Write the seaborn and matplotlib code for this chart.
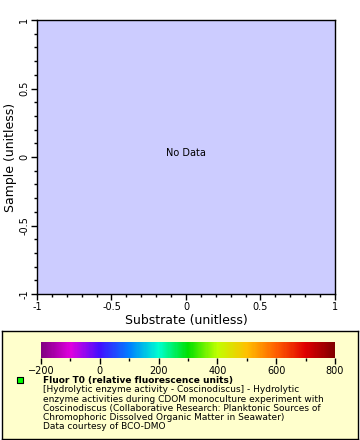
import numpy as np
import pandas as pd
import matplotlib
matplotlib.use("Agg")
import matplotlib.pyplot as plt
import seaborn as sns
from matplotlib.colors import LinearSegmentedColormap, Normalize
from matplotlib.ticker import MultipleLocator

# Dados (o gráfico original não tem pontos: "No Data")
substrate = []
sample = []
fluor_t0 = []

x_ticks = [-1, -0.5, 0, 0.5, 1]
y_ticks = [-1, -0.5, 0, 0.5, 1]
cbar_ticks = [-200, 0, 200, 400, 600, 800]

legend_title = "Fluor T0 (relative fluorescence units)"
legend_lines = [
    "[Hydrolytic enzyme activity - Coscinodiscus] - Hydrolytic",
    "enzyme activities during CDOM monoculture experiment with",
    "Coscinodiscus (Collaborative Research: Planktonic Sources of",
    "Chromophoric Dissolved Organic Matter in Seawater)",
    "Data courtesy of BCO-DMO",
]

sns.set_style("ticks", {"axes.edgecolor": "black", "xtick.color": "black",
                        "ytick.color": "black", "text.color": "black",
                        "axes.labelcolor": "black"})
plt.rcParams["font.family"] = ["DejaVu Sans"]

rainbow = LinearSegmentedColormap.from_list(
    "rainbow2",
    ["#800080", "#e000e0", "#4010ff", "#0080ff", "#00ffd0", "#00e000",
     "#c0ff00", "#ffc000", "#ff6000", "#e00000", "#800000"])
norm = Normalize(vmin=-200, vmax=800)

fig = plt.figure(figsize=(3.6, 4.4), dpi=100)
ax = fig.add_axes([37 / 360, 1 - 294 / 440, 298 / 360, 274 / 440])
ax.set_facecolor("#ccccff")

df = pd.DataFrame({"Substrate": pd.Series(substrate, dtype=float),
                   "Sample": pd.Series(sample, dtype=float),
                   "Fluor": pd.Series(fluor_t0, dtype=float)})
if len(df):
    sns.scatterplot(data=df, x="Substrate", y="Sample", hue="Fluor",
                    palette=rainbow, hue_norm=norm, ax=ax, legend=False)
else:
    ax.text(0, 0.03, "No Data", ha="center", va="center", fontsize=7)

ax.set_xlim(-1, 1)
ax.set_ylim(-1, 1)
ax.set_xticks(x_ticks)
ax.set_yticks(y_ticks)
ax.set_xticklabels([f"{t:g}" for t in x_ticks])
ax.set_yticklabels([f"{t:g}" for t in y_ticks], rotation=90, va="center")
ax.xaxis.set_minor_locator(MultipleLocator(0.1))
ax.yaxis.set_minor_locator(MultipleLocator(0.1))
ax.tick_params(which="major", length=4, width=1, labelsize=7, pad=1.5)
ax.tick_params(which="minor", length=2, width=1)
for s in ax.spines.values():
    s.set_linewidth(1)
ax.set_xlabel("Substrate (unitless)", fontsize=9, labelpad=2)
ax.set_ylabel("Sample (unitless)", fontsize=9, labelpad=2)

# caixa da legenda
box = fig.add_axes([2 / 360, 1 - 439 / 440, 356 / 360, 108 / 440])
box.set_facecolor("#ffffcc")
box.set_xticks([])
box.set_yticks([])
for s in box.spines.values():
    s.set_linewidth(1)
box.set_xlim(0, 356)
box.set_ylim(108, 0)

cax = fig.add_axes([41 / 360, 1 - 358 / 440, 294 / 360, 16 / 440])
sm = plt.cm.ScalarMappable(norm=norm, cmap=rainbow)
cb = fig.colorbar(sm, cax=cax, orientation="horizontal")
cb.set_ticks(cbar_ticks)
cb.ax.xaxis.set_minor_locator(MultipleLocator(100))
cb.outline.set_visible(False)
cax.tick_params(which="major", length=4, width=1, labelsize=7, pad=1.5)
cax.tick_params(which="minor", length=2, width=1)

box.scatter([18], [49], marker="s", s=14, color="#00ff00",
            edgecolor="black", linewidth=0.8)
box.text(41, 49, legend_title, fontsize=6.5, fontweight="bold", va="center")
for i, line in enumerate(legend_lines):
    box.text(41, 58.8 + i * 9.2, line, fontsize=6.5, va="center")

fig.savefig("out.png", dpi=100)
